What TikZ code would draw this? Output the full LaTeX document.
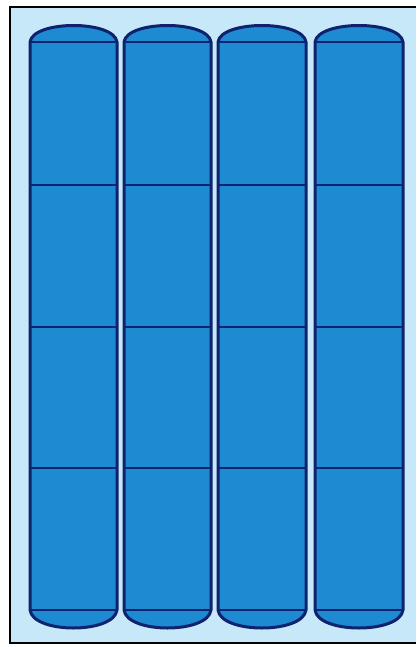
\documentclass[tikz,border=0pt]{standalone}
\definecolor{bgblue}{RGB}{198,232,248}
\definecolor{cellblue}{RGB}{30,138,210}
\definecolor{navy}{RGB}{14,34,110}
\tikzset{
  tube/.style={fill=cellblue, draw=navy, line width=3pt, line join=round},
  divider/.style={draw=navy, line width=2.5pt},
  frameline/.style={draw=black, line width=2.4pt}
}
\begin{document}
\begin{tikzpicture}[x=1pt,y=-1pt]
\useasboundingbox (0,0) rectangle (416,647);
\fill[white] (0,0) rectangle (416,647);
\fill[bgblue] (10,7) rectangle (416,643);
\draw[frameline] (416,7) -- (10,7) -- (10,643) -- (416,643);
\foreach \xa/\xb in {30/117, 124/211, 218/306, 315/403}{
  \draw[tube] (\xa,42) .. controls (\xa+3,20) and (\xb-3,20) .. (\xb,42)
     -- (\xb,610) .. controls (\xb-3,634) and (\xa+3,634) .. (\xa,610) -- cycle;
  \foreach \y in {42,185,327,468,610}{
    \draw[divider] (\xa,\y) -- (\xb,\y);
  }
}
\end{tikzpicture}
\end{document}
